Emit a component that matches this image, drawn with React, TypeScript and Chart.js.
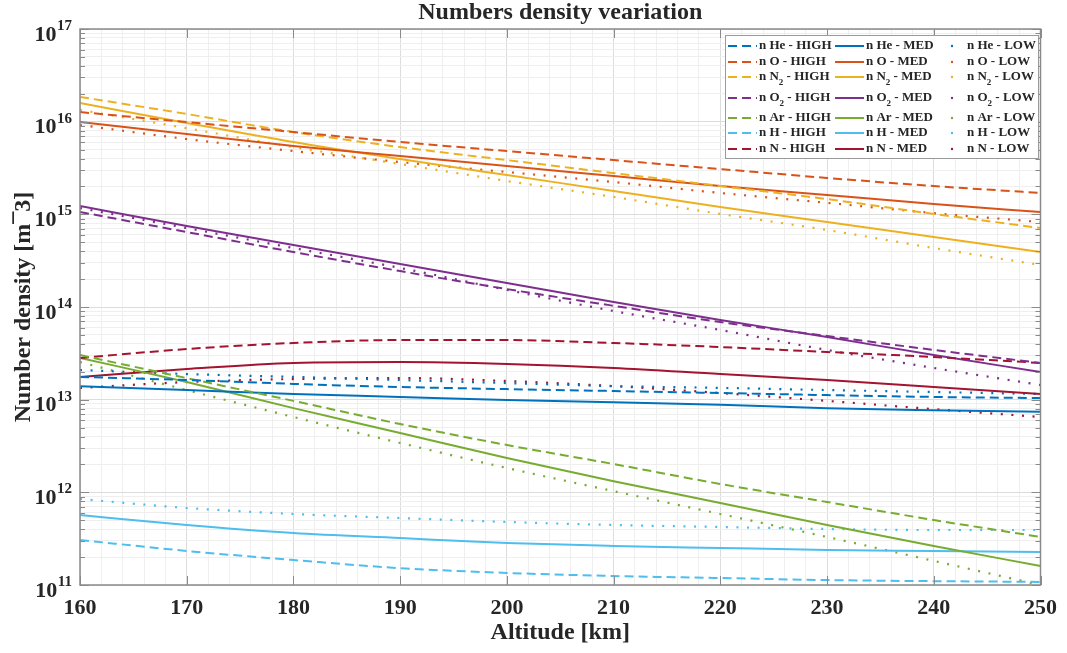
import React, { useEffect, useRef } from 'react';
import { Chart, registerables } from 'chart.js';
Chart.register(...registerables);

// ---------------- data ----------------
const altitudes = [160, 170, 180, 190, 200, 210, 220, 230, 240, 250];
const species = ['He', 'O', 'N2', 'O2', 'Ar', 'H', 'N'];
const levels = ['HIGH', 'MED', 'LOW'];
const speciesColors = ['#0072BD', '#D95319', '#EDB120', '#7E2F8E', '#77AC30', '#4DBEEE', '#A2142F'];

const heHigh = [1.76e13, 1.63e13, 1.48e13, 1.37e13, 1.30e13, 1.24e13, 1.18e13, 1.12e13, 1.07e13, 1.04e13];
const heMed = [1.40e13, 1.27e13, 1.15e13, 1.07e13, 9.9e12, 9.4e12, 8.8e12, 8.1e12, 7.7e12, 7.4e12];
const heLow = [2.09e13, 1.89e13, 1.76e13, 1.63e13, 1.51e13, 1.40e13, 1.34e13, 1.27e13, 1.21e13, 1.15e13];
const oHigh = [1.27e16, 9.9e15, 7.73e15, 6.03e15, 4.82e15, 3.85e15, 3.08e15, 2.47e15, 2.02e15, 1.70e15];
const oMed = [9.9e15, 7.36e15, 5.46e15, 4.26e15, 3.32e15, 2.59e15, 2.02e15, 1.62e15, 1.29e15, 1.06e15];
const oLow = [9.2e15, 6.5e15, 4.82e15, 3.67e15, 2.86e15, 2.23e15, 1.70e15, 1.33e15, 1.03e15, 8.26e14];
const n2High = [1.85e16, 1.21e16, 7.73e15, 5.32e15, 3.85e15, 2.79e15, 2.02e15, 1.46e15, 1.01e15, 7.11e14];
const n2Med = [1.59e16, 9.7e15, 6.03e15, 3.95e15, 2.65e15, 1.79e15, 1.20e15, 8.26e14, 5.69e14, 3.92e14];
const n2Low = [1.34e16, 8.5e15, 5.32e15, 3.49e15, 2.29e15, 1.54e15, 1.01e15, 6.78e14, 4.33e14, 2.84e14];
const o2High = [1.06e15, 6.44e14, 3.92e14, 2.44e14, 1.56e14, 1.03e14, 6.88e13, 4.86e13, 3.44e13, 2.49e13];
const o2Med = [1.23e15, 7.48e14, 4.67e14, 2.91e14, 1.82e14, 1.13e14, 7.24e13, 4.74e13, 3.03e13, 1.99e13];
const o2Low = [1.17e15, 7.11e14, 4.33e14, 2.64e14, 1.53e14, 9.05e13, 5.65e13, 3.44e13, 2.20e13, 1.44e13];
const arHigh = [3.03e13, 1.71e13, 9.7e12, 5.46e12, 3.24e12, 2.02e12, 1.23e12, 7.86e11, 5.03e11, 3.30e11];
const arMed = [2.82e13, 1.55e13, 8.1e12, 4.37e12, 2.35e12, 1.32e12, 7.67e11, 4.44e11, 2.64e11, 1.60e11];
const arLow = [2.55e13, 1.27e13, 6.5e12, 3.41e12, 1.83e12, 1.03e12, 5.84e11, 3.30e11, 1.82e11, 1.0e11];
const hHigh = [3.06e11, 2.33e11, 1.86e11, 1.52e11, 1.35e11, 1.25e11, 1.19e11, 1.13e11, 1.10e11, 1.08e11];
const hMed = [5.69e11, 4.44e11, 3.64e11, 3.21e11, 2.84e11, 2.64e11, 2.51e11, 2.39e11, 2.33e11, 2.27e11];
const hLow = [8.47e11, 6.78e11, 5.84e11, 5.28e11, 4.79e11, 4.44e11, 4.23e11, 4.02e11, 3.92e11, 3.92e11];
const nHigh = [2.82e13, 3.52e13, 4.09e13, 4.40e13, 4.40e13, 4.09e13, 3.70e13, 3.27e13, 2.89e13, 2.49e13];
const nMed = [1.76e13, 2.14e13, 2.49e13, 2.55e13, 2.43e13, 2.20e13, 1.89e13, 1.63e13, 1.37e13, 1.15e13];
const nLow = [1.34e13, 1.55e13, 1.67e13, 1.71e13, 1.59e13, 1.40e13, 1.18e13, 9.7e12, 7.9e12, 6.5e12];

const seriesBySpecies = [
  [heHigh, heMed, heLow],
  [oHigh, oMed, oLow],
  [n2High, n2Med, n2Low],
  [o2High, o2Med, o2Low],
  [arHigh, arMed, arLow],
  [hHigh, hMed, hLow],
  [nHigh, nMed, nLow],
];

const yDecades = [1e11, 1e12, 1e13, 1e14, 1e15, 1e16, 1e17];
const yDecadeExponents = ['11', '12', '13', '14', '15', '16', '17'];
const xMajorTicks = [160, 170, 180, 190, 200, 210, 220, 230, 240, 250];

const titleText = 'Numbers density veariation';
const xTitle = 'Altitude [km]';
const yTitle = 'Number density [m\u00AF3]';

// ---------------- styles ----------------
const FONT = "'Liberation Serif', 'Times New Roman', serif";
const TEXT = '#262626';
const AXIS = '#8a8a8a';
const GRID_MAJOR = '#dcdcdc';
const GRID_MINOR = '#efefef';
const dashByLevel = [[9, 5], [], [2, 8.6]];
const widthByLevel = [2, 2, 2.2];

const isDecade = (v: number) => Math.abs(Math.log10(v) - Math.round(Math.log10(v))) < 1e-9;

function buildMinorGrid(): number[] {
  const out: number[] = [];
  for (let d = 0; d < yDecades.length - 1; d++) {
    for (let m = 1; m <= 9; m++) out.push(yDecades[d] * m);
  }
  out.push(yDecades[yDecades.length - 1]);
  return out;
}

function drawSpeciesLabel(ctx: CanvasRenderingContext2D, x: number, y: number, name: string, level: string) {
  const m = name.match(/^([A-Za-z]+)(\d*)$/);
  const base = m ? m[1] : name;
  const sub = m ? m[2] : '';
  ctx.font = `bold 13px ${FONT}`;
  ctx.textBaseline = 'middle';
  ctx.textAlign = 'left';
  let cx = x;
  const first = 'n ' + base;
  ctx.fillText(first, cx, y);
  cx += ctx.measureText(first).width;
  if (sub) {
    ctx.font = `bold 9px ${FONT}`;
    ctx.fillText(sub, cx, y + 6);
    cx += ctx.measureText(sub).width;
    ctx.font = `bold 13px ${FONT}`;
  }
  ctx.fillText(' - ' + level, cx, y);
}

const decorPlugin = {
  id: 'decor',
  afterDraw(chart: any) {
    const ctx: CanvasRenderingContext2D = chart.ctx;
    const { left, right, top, bottom } = chart.chartArea;
    const xs = chart.scales.x;
    const ys = chart.scales.y;
    ctx.save();

    // axes box
    ctx.strokeStyle = AXIS;
    ctx.lineWidth = 1.5;
    ctx.strokeRect(left, top, right - left, bottom - top);

    // y ticks (inward, both sides)
    ctx.lineWidth = 1;
    for (const v of buildMinorGrid()) {
      const y = Math.round(ys.getPixelForValue(v)) + 0.5;
      const len = isDecade(v) ? 9 : 5;
      ctx.beginPath();
      ctx.moveTo(left, y); ctx.lineTo(left + len, y);
      ctx.moveTo(right, y); ctx.lineTo(right - len, y);
      ctx.stroke();
    }
    // x ticks (inward, top & bottom)
    for (const v of xMajorTicks) {
      const x = Math.round(xs.getPixelForValue(v)) + 0.5;
      ctx.beginPath();
      ctx.moveTo(x, bottom); ctx.lineTo(x, bottom - 9);
      ctx.moveTo(x, top); ctx.lineTo(x, top + 9);
      ctx.stroke();
    }

    // y tick labels 10^n
    ctx.fillStyle = TEXT;
    ctx.textBaseline = 'alphabetic';
    yDecades.forEach((v, i) => {
      const y = ys.getPixelForValue(v);
      ctx.font = `bold 15px ${FONT}`;
      const sup = yDecadeExponents[i];
      const supW = ctx.measureText(sup).width;
      const supX = 72 - supW;
      ctx.textAlign = 'left';
      ctx.fillText(sup, supX, y + 1);
      ctx.font = `bold 22px ${FONT}`;
      ctx.textAlign = 'right';
      ctx.fillText('10', supX - 0.5, y + 11.5);
    });

    // title
    ctx.font = `bold 24px ${FONT}`;
    ctx.textAlign = 'center';
    ctx.textBaseline = 'middle';
    ctx.fillStyle = TEXT;
    ctx.fillText(titleText, (left + right) / 2, 13);

    // legend
    const bx = 725, by = 35, bw = 313, bh = 123;
    ctx.fillStyle = '#ffffff';
    ctx.fillRect(bx, by, bw, bh);
    ctx.strokeStyle = '#9a9a9a';
    ctx.lineWidth = 1;
    ctx.strokeRect(bx + 0.5, by + 0.5, bw, bh);
    const rowY = [46, 62, 77, 98, 118, 133, 149];
    const colLine = [[728, 757], [835, 864], [952, 952]];
    const colText = [759, 866, 967];
    species.forEach((sp, si) => {
      levels.forEach((lv, li) => {
        const y = rowY[si];
        ctx.strokeStyle = speciesColors[si];
        ctx.fillStyle = speciesColors[si];
        if (li === 2) {
          ctx.beginPath();
          ctx.arc(colLine[li][0], y, 1.2, 0, Math.PI * 2);
          ctx.fill();
        } else {
          ctx.lineWidth = 2;
          ctx.setLineDash(dashByLevel[li]);
          ctx.beginPath();
          ctx.moveTo(colLine[li][0], y);
          ctx.lineTo(colLine[li][1], y);
          ctx.stroke();
          ctx.setLineDash([]);
        }
        ctx.fillStyle = TEXT;
        drawSpeciesLabel(ctx, colText[li], y, sp, lv);
      });
    });

    ctx.restore();
  },
};

export default function App() {
  const canvasRef = useRef<HTMLCanvasElement | null>(null);

  useEffect(() => {
    const canvas = canvasRef.current;
    if (!canvas) return;

    const datasets: any[] = [];
    levels.forEach((lv, li) => {
      species.forEach((sp, si) => {
        const vals = seriesBySpecies[si][li];
        datasets.push({
          label: `n ${sp} - ${lv}`,
          data: altitudes.map((a, i) => ({ x: a, y: vals[i] })),
          borderColor: speciesColors[si],
          backgroundColor: speciesColors[si],
          borderWidth: widthByLevel[li],
          borderDash: dashByLevel[li],
          borderCapStyle: 'butt',
          pointRadius: 0,
          fill: false,
          cubicInterpolationMode: 'monotone',
        });
      });
    });

    const chart = new Chart(canvas, {
      type: 'line',
      data: { datasets },
      options: {
        animation: false,
        responsive: false,
        maintainAspectRatio: false,
        layout: { padding: { top: 29, right: 25, left: 0, bottom: 0 } },
        plugins: {
          legend: { display: false },
          title: { display: false },
          tooltip: { enabled: false },
        },
        scales: {
          x: {
            type: 'linear',
            min: 160,
            max: 250,
            afterFit: (s: any) => { s.height = 68; },
            ticks: {
              stepSize: 2,
              autoSkip: false,
              maxRotation: 0,
              padding: 10,
              color: TEXT,
              font: { family: FONT, size: 22, weight: 'bold' },
              callback: (v: any) => (Number(v) % 10 === 0 ? String(v) : ''),
            },
            grid: {
              drawTicks: false,
              color: (c: any) => (c.tick && Number(c.tick.value) % 10 === 0 ? GRID_MAJOR : GRID_MINOR),
              lineWidth: 1,
            },
            border: { display: false },
            title: {
              display: true,
              text: xTitle,
              color: TEXT,
              font: { family: FONT, size: 24, weight: 'bold' },
              padding: { top: 0, bottom: 6 },
            },
          },
          y: {
            type: 'logarithmic',
            min: 1e11,
            max: 1e17,
            afterFit: (s: any) => { s.width = 80; },
            afterBuildTicks: (s: any) => { s.ticks = buildMinorGrid().map((v) => ({ value: v })); },
            ticks: { display: false },
            grid: {
              drawTicks: false,
              color: (c: any) => (c.tick && isDecade(c.tick.value) ? GRID_MAJOR : GRID_MINOR),
              lineWidth: 1,
            },
            border: { display: false },
            title: {
              display: true,
              text: yTitle,
              color: TEXT,
              font: { family: FONT, size: 24, weight: 'bold' },
              padding: { top: 9, bottom: 0 },
            },
          },
        },
      },
      plugins: [decorPlugin],
    } as any);

    return () => chart.destroy();
  }, []);

  return (
    <div style={{ position: 'fixed', left: 0, top: 0, width: 1067, height: 653, background: '#ffffff' }}>
      <canvas ref={canvasRef} width={1067} height={653} style={{ display: 'block' }} />
    </div>
  );
}
